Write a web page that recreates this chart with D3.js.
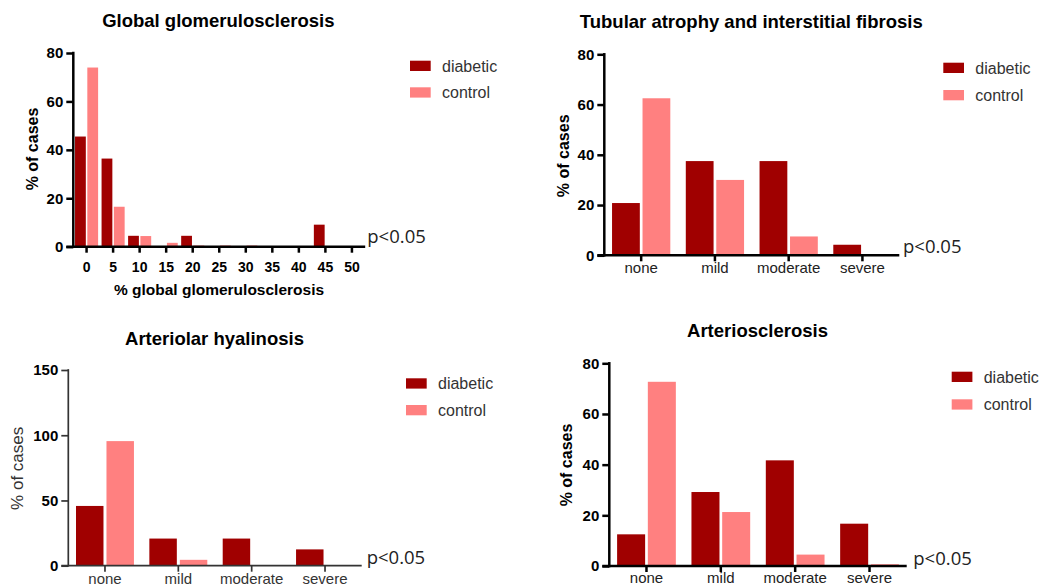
<!DOCTYPE html>
<html><head><meta charset="utf-8">
<script src="https://cdn.jsdelivr.net/npm/d3@7"></script>
<style>body{margin:0;background:#fff;} svg{display:block;font-family:"Liberation Sans",Arial,sans-serif;}</style>
</head><body><svg id="c" width="1057" height="587"></svg>
<script>
const seriesNames = ["diabetic", "control"];
const seriesColors = ["#a00000", "#ff8080"];

const ggBins = ["0","5","10","15","20","25","30","35","40","45","50"];
const ggDiabetic = [45.5, 36.4, 4.5, 0, 4.5, 0, 0, 0, 0, 9.1, 0];
const ggControl  = [74.0, 16.5, 4.4, 1.6, 0.5, 0.5, 0.5, 0, 0, 0, 0];

const gradeCategories = ["none", "mild", "moderate", "severe"];
const taDiabetic = [20.8, 37.5, 37.5, 4.2];
const taControl  = [62.5, 30.0, 7.5, 0];
const ahDiabetic = [45.8, 20.8, 20.8, 12.5];
const ahControl  = [95.5, 4.5, 0, 0];
const asDiabetic = [12.5, 29.2, 41.7, 16.7];
const asControl  = [72.7, 21.3, 4.5, 0.7];

const ticks80 = [0, 20, 40, 60, 80];
const ticks150 = [0, 50, 100, 150];
const pLabel = "p<0.05";
const yAxisLabel = "% of cases";

const panels = [
  { title: "Global glomerulosclerosis", cats: ggBins, values: [ggDiabetic, ggControl], yMax: 80, yTicks: ticks80,
    xLabel: "% global glomerulosclerosis",
    L: { x0: 73.3, x1: 365.2, y0: 246.7, y1: 53, groupFrac: 0.87, gap: 1.5,
         titleX: 218.3, titleY: 20.8, yLabX: 32, yLabY: 149, xLabX: 219, xLabY: 289.5,
         legX: 410, legY: 60.7, legDy: 26.6, pX: 367.3, pY: 236.7,
         xTickFont: 14, xTickBold: true, xTickY: 20, xTickColor: "#000",
         axisW: 2.5, axisColor: "#000", yLabBold: true } },
  { title: "Tubular atrophy and interstitial fibrosis", cats: gradeCategories, values: [taDiabetic, taControl], yMax: 80, yTicks: ticks80,
    L: { x0: 604.3, x1: 899.3, y0: 255.3, y1: 54.3, groupFrac: 0.79, gap: 2.7,
         titleX: 751.3, titleY: 21.2, yLabX: 563, yLabY: 155.8,
         legX: 943.3, legY: 62.7, legDy: 27.3, pX: 903, pY: 246.7,
         xTickFont: 15, xTickBold: false, xTickY: 12.3, xTickColor: "#222",
         axisW: 2.5, axisColor: "#000", yLabBold: true } },
  { title: "Arteriolar hyalinosis", cats: gradeCategories, values: [ahDiabetic, ahControl], yMax: 150, yTicks: ticks150,
    L: { x0: 68.3, x1: 361.7, y0: 565.7, y1: 370, groupFrac: 0.79, gap: 3,
         titleX: 214.5, titleY: 338.3, yLabX: 17.3, yLabY: 468.3,
         legX: 406, legY: 378.3, legDy: 26.7, pX: 366.7, pY: 557.3,
         xTickFont: 15, xTickBold: false, xTickY: 12.8, xTickColor: "#333",
         axisW: 1.7, axisColor: "#333", yLabBold: false } },
  { title: "Arteriosclerosis", cats: gradeCategories, values: [asDiabetic, asControl], yMax: 80, yTicks: ticks80,
    L: { x0: 609.3, x1: 906.7, y0: 566, y1: 363.3, groupFrac: 0.79, gap: 2.7,
         titleX: 757.5, titleY: 330.3, yLabX: 565.8, yLabY: 465,
         legX: 951.7, legY: 371.7, legDy: 27.6, pX: 913.3, pY: 558.3,
         xTickFont: 15, xTickBold: false, xTickY: 12, xTickColor: "#222",
         axisW: 2.5, axisColor: "#000", yLabBold: true } }
];

const svg = d3.select("#c");

panels.forEach(p => {
  const L = p.L;
  const g = svg.append("g");
  const x = d3.scaleBand().domain(p.cats).range([L.x0, L.x1]).padding(0);
  const y = d3.scaleLinear().domain([0, p.yMax]).range([L.y0, L.y1]);
  const groupW = x.bandwidth() * L.groupFrac;
  const inner = L.gap / ((groupW + L.gap) / 2);
  const xs = d3.scaleBand().domain(seriesNames).range([0, groupW]).paddingInner(inner).paddingOuter(0);
  const groupOff = (x.bandwidth() - groupW) / 2;

  // bars
  seriesNames.forEach((s, si) => {
    g.append("g").selectAll("rect").data(p.cats.map((c, i) => ({ c, v: p.values[si][i] })))
      .join("rect")
      .attr("x", d => x(d.c) + groupOff + xs(s))
      .attr("width", xs.bandwidth())
      .attr("y", d => y(d.v))
      .attr("height", d => y(0) - y(d.v))
      .attr("fill", seriesColors[si]);
  });

  // y axis
  const ya = g.append("g").attr("transform", `translate(${L.x0},0)`)
    .call(d3.axisLeft(y).tickValues(p.yTicks).tickSize(7).tickPadding(3).tickFormat(d3.format("d")));
  ya.select(".domain").remove();
  ya.selectAll(".tick line").attr("stroke", L.axisColor).attr("stroke-width", L.axisW);
  ya.selectAll(".tick text").attr("fill", "#000").style("font-size", "15px").style("font-weight", "bold")
    .style("font-family", '"Liberation Sans",Arial,sans-serif');
  g.append("line").attr("x1", L.x0).attr("x2", L.x0).attr("y1", y(p.yMax) - L.axisW / 2).attr("y2", y(0) + L.axisW / 2)
    .attr("stroke", L.axisColor).attr("stroke-width", L.axisW);

  // x axis
  const xa = g.append("g").attr("transform", `translate(0,${L.y0})`)
    .call(d3.axisBottom(x).tickSize(6));
  xa.select(".domain").remove();
  xa.selectAll(".tick line").attr("stroke", L.axisColor).attr("stroke-width", L.axisW);
  xa.selectAll(".tick text").attr("y", L.xTickY).attr("dy", "0.35em").attr("fill", L.xTickColor)
    .style("font-size", L.xTickFont + "px").style("font-weight", L.xTickBold ? "bold" : "normal")
    .style("font-family", '"Liberation Sans",Arial,sans-serif');
  g.append("line").attr("x1", L.x0 - 7).attr("x2", L.x1).attr("y1", L.y0).attr("y2", L.y0)
    .attr("stroke", L.axisColor).attr("stroke-width", L.axisW);

  // title
  g.append("text").attr("x", L.titleX).attr("y", L.titleY).attr("dy", "0.36em").attr("text-anchor", "middle")
    .style("font-size", "18.5px").style("font-weight", "bold").attr("fill", "#000").text(p.title);

  // y label
  g.append("text").attr("transform", `translate(${L.yLabX},${L.yLabY}) rotate(-90)`).attr("dy", "0.36em")
    .attr("text-anchor", "middle")
    .style("font-size", L.yLabBold ? "16px" : "17px").style("font-weight", L.yLabBold ? "bold" : "normal")
    .attr("fill", L.yLabBold ? "#000" : "#333").text(yAxisLabel);

  // x label
  if (p.xLabel) {
    g.append("text").attr("x", L.xLabX).attr("y", L.xLabY).attr("dy", "0.36em").attr("text-anchor", "middle")
      .style("font-size", "15.5px").style("font-weight", "bold").attr("fill", "#000").text(p.xLabel);
  }

  // legend
  seriesNames.forEach((s, si) => {
    const ly = L.legY + si * L.legDy;
    g.append("rect").attr("x", L.legX).attr("y", ly).attr("width", 20.7).attr("height", 10.3).attr("fill", seriesColors[si]);
    g.append("text").attr("x", L.legX + 32).attr("y", ly + 5.15).attr("dy", "0.36em")
      .style("font-size", "16px").attr("fill", "#333").text(s);
  });

  // p value
  g.append("text").attr("x", L.pX).attr("y", L.pY).attr("dy", "0.36em")
    .style("font-family", '"Open Sans",sans-serif').style("font-size", "18.5px").attr("fill", "#222").text(pLabel);
});
</script>
</body></html>
